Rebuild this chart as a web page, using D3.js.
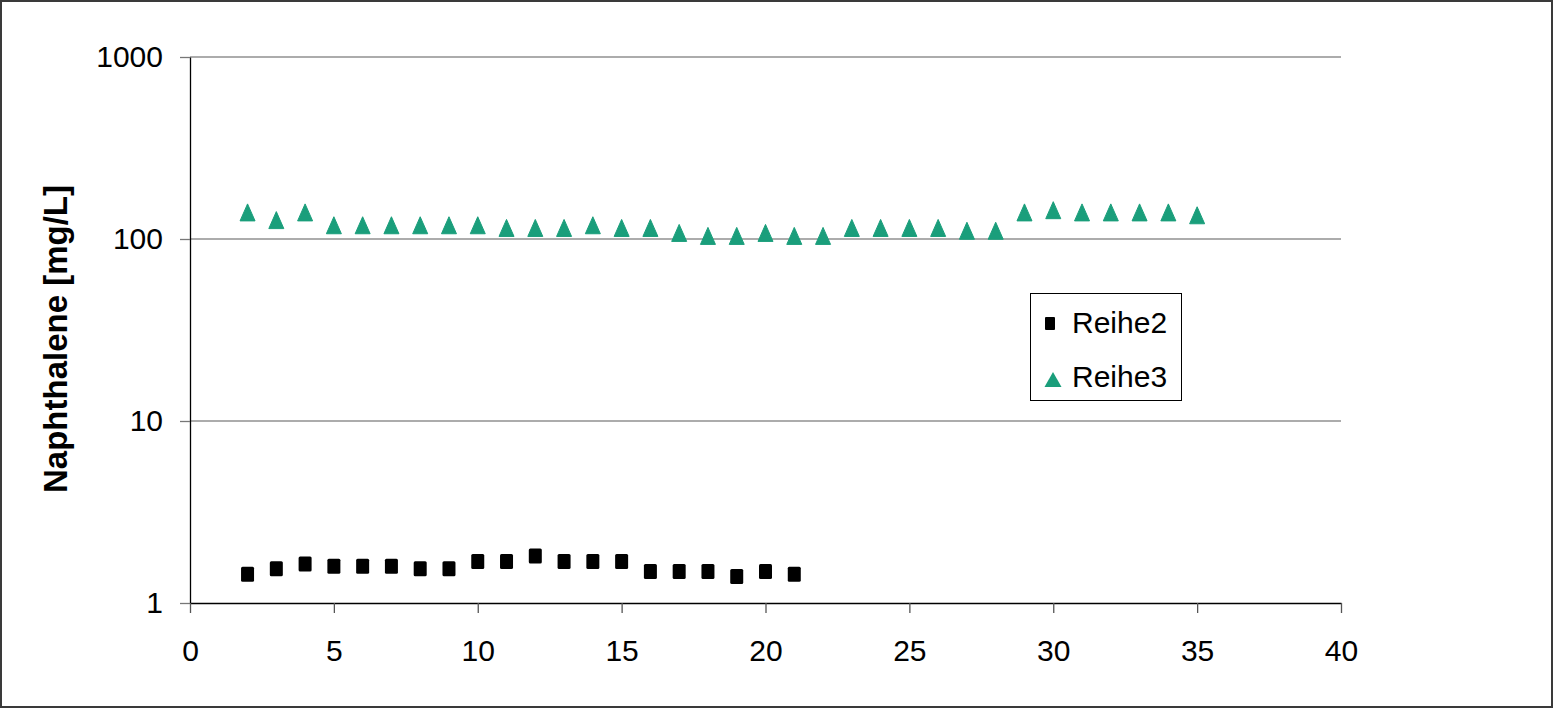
<!DOCTYPE html>
<html><head><meta charset="utf-8">
<script src="https://cdn.jsdelivr.net/npm/d3@7"></script>
<style>body{margin:0;background:#fff}svg{display:block}text{font-family:"Liberation Sans",Arial,sans-serif}</style>
</head><body><svg id="c" width="1554" height="709"></svg>
<script>
const xTicks = [0,5,10,15,20,25,30,35,40];
const yTicks = [1,10,100,1000];
const reihe2X = [2,3,4,5,6,7,8,9,10,11,12,13,14,15,16,17,18,19,20,21];
const reihe2Y = [1.44,1.54,1.64,1.59,1.59,1.59,1.54,1.54,1.69,1.69,1.81,1.69,1.69,1.69,1.49,1.49,1.49,1.40,1.49,1.44];
const reihe3X = [2,3,4,5,6,7,8,9,10,11,12,13,14,15,16,17,18,19,20,21,22,23,24,25,26,27,28,29,30,31,32,33,34,35];
const reihe3Y = [140,127,140,119,119,119,119,119,119,115,115,115,119,115,115,108,104,104,108,104,104,115,115,115,115,111,111,140,144,140,140,140,140,135];
const seriesNames = ["Reihe2","Reihe3"];
const yTitle = "Naphthalene [mg/L]";

const FONT = "'Liberation Sans',Arial,sans-serif";
const svg = d3.select("#c");
svg.append("rect").attr("x",1).attr("y",1).attr("width",1551).attr("height",706)
  .attr("fill","#fff").attr("stroke","#3a3a3a").attr("stroke-width",2);

const x = d3.scaleLinear().domain([0,40]).range([190,1341]);
const y = d3.scaleLog().domain([1,1000]).range([603,57]);

// gridlines
svg.append("g").selectAll("line").data(yTicks.slice(1)).join("line")
  .attr("x1",190).attr("x2",1341).attr("y1",d=>y(d)).attr("y2",d=>y(d))
  .attr("stroke","#5a5a5a").attr("stroke-width",1.2);

// y axis
const ya = svg.append("g").attr("transform","translate(190,0)")
  .call(d3.axisLeft(y).tickValues(yTicks).tickFormat(d3.format("d")).tickSize(10).tickSizeOuter(0));
ya.attr("font-size",30).attr("font-family",FONT);
ya.select(".domain").attr("stroke","#000").attr("stroke-width",1.3);
ya.selectAll(".tick line").attr("stroke","#777").attr("stroke-width",1.3);
ya.selectAll(".tick text").attr("font-size",30).attr("fill","#000").attr("x",-27);

// x axis
const xa = svg.append("g").attr("transform","translate(0,603)")
  .call(d3.axisBottom(x).tickValues(xTicks).tickSize(10).tickSizeOuter(0));
xa.attr("font-size",30).attr("font-family",FONT);
xa.select(".domain").attr("stroke","#000").attr("stroke-width",1.3);
xa.selectAll(".tick line").attr("stroke","#555").attr("stroke-width",1.3);
xa.selectAll(".tick text").attr("font-size",30).attr("fill","#000").attr("y",37);

// y title
svg.append("text").attr("transform","translate(67,339) rotate(-90)")
  .attr("text-anchor","middle").attr("font-size",33).attr("font-weight","bold").text(yTitle);

const r2 = reihe2X.map((d,i)=>[d,reihe2Y[i]]);
const r3 = reihe3X.map((d,i)=>[d,reihe3Y[i]]);

svg.append("g").selectAll("rect").data(r2).join("rect")
  .attr("x",d=>x(d[0])-6.5).attr("y",d=>y(d[1])-7.5).attr("width",13).attr("height",15)
  .attr("rx",1.5).attr("fill","#000");

const tri = (cx,cy,w=15,h=17)=>`M${cx},${cy-h/2}L${cx+w/2},${cy+h/2}L${cx-w/2},${cy+h/2}Z`;
svg.append("g").selectAll("path").data(r3).join("path")
  .attr("d",d=>tri(x(d[0]),y(d[1]))).attr("fill","#1a9e7b").attr("stroke","#1a9e7b")
  .attr("stroke-width",1).attr("stroke-linejoin","round");

// legend
const lg = svg.append("g");
lg.append("rect").attr("x",1030.5).attr("y",293.5).attr("width",151).attr("height",107)
  .attr("fill","#fff").attr("stroke","#000").attr("stroke-width",1);
lg.append("rect").attr("x",1045).attr("y",317).attr("width",10).attr("height",13).attr("rx",1).attr("fill","#000");
lg.append("path").attr("d",tri(1053,379.5,17,15)).attr("fill","#1a9e7b");
lg.append("text").attr("x",1072).attr("y",333).attr("font-size",30).text(seriesNames[0]);
lg.append("text").attr("x",1072).attr("y",387).attr("font-size",30).text(seriesNames[1]);
</script></body></html>
